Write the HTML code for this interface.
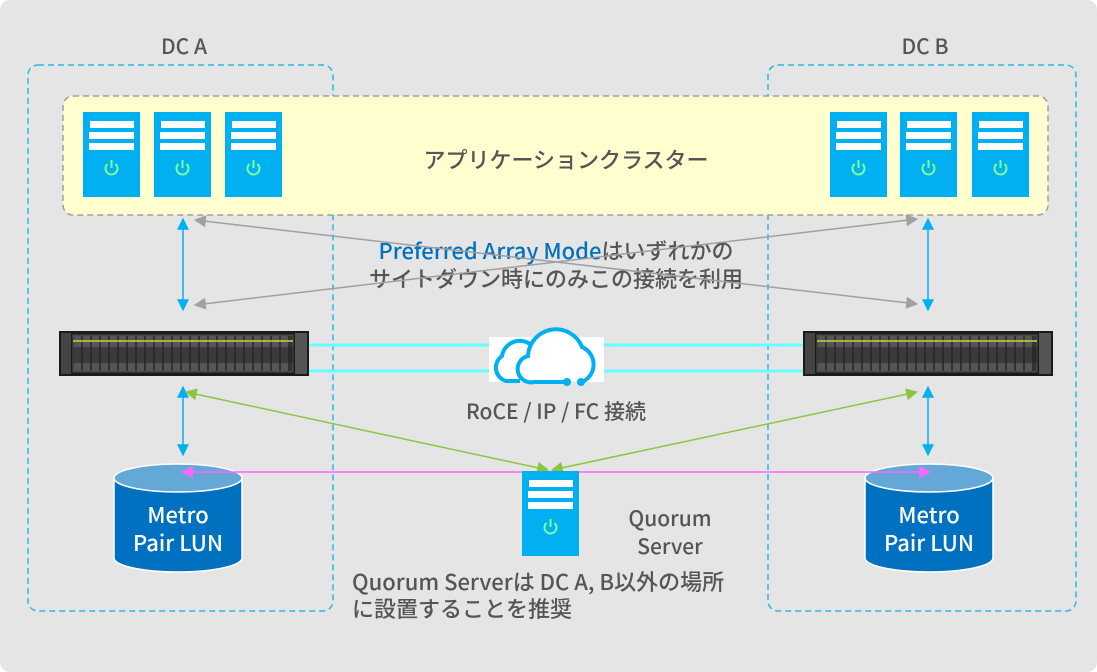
<!DOCTYPE html>
<html><head><meta charset="utf-8"><style>
html,body{margin:0;padding:0;background:#fff}
svg{display:block}
text{font-family:"Noto Sans CJK JP","Liberation Sans",sans-serif;font-weight:500}
</style></head><body>
<svg width="1097" height="672" viewBox="0 0 1097 672" xmlns="http://www.w3.org/2000/svg">
<defs>
<g id="srv">
<rect x="0" y="0" width="57" height="85" fill="#00b0f0"/>
<rect x="7" y="9" width="44" height="7" fill="#fff"/>
<rect x="6" y="20" width="45" height="7" fill="#fff"/>
<rect x="6" y="31" width="45" height="7" fill="#fff"/>
<path d="M24.5 52 A6 6 0 1 0 32.5 52" fill="none" stroke="#7cfc9a" stroke-width="2"/>
<line x1="28.5" y1="48" x2="28.5" y2="56" stroke="#7cfc9a" stroke-width="2"/>
</g>
<g id="arr">
<rect x="0" y="0" width="250" height="45" fill="#1a1a1a"/>
<rect x="2" y="2" width="10" height="41" fill="#444"/>
<rect x="236" y="2" width="12" height="41" fill="#555"/>
<rect x="14" y="4" width="220" height="37" fill="#333" stroke="#777" stroke-width="0.6"/>
<g id="bays">
<rect x="15" y="5" width="7" height="35" fill="#555"/>
<rect x="24" y="5" width="7" height="35" fill="#555"/>
<rect x="33" y="5" width="7" height="35" fill="#555"/>
<rect x="42" y="5" width="7" height="35" fill="#555"/>
<rect x="51" y="5" width="7" height="35" fill="#555"/>
<rect x="60" y="5" width="7" height="35" fill="#555"/>
<rect x="69" y="5" width="7" height="35" fill="#555"/>
<rect x="78" y="5" width="7" height="35" fill="#555"/>
</g>
<use href="#bays" x="72"/>
<use href="#bays" x="144"/>
<rect x="14" y="9" width="220" height="2" fill="#c8c83a" opacity="0.8"/>
<rect x="14" y="16" width="220" height="16" fill="#222" opacity="0.5"/>
</g>
<marker id="mb" viewBox="0 0 10 10" refX="9" refY="5" markerWidth="9" markerHeight="8" orient="auto-start-reverse"><path d="M0 0L10 5L0 10z" fill="#00b0f0"/></marker>
<marker id="mg" viewBox="0 0 10 10" refX="9" refY="5" markerWidth="10" markerHeight="8" orient="auto-start-reverse"><path d="M0 0L10 5L0 10z" fill="#a0a0a0"/></marker>
<marker id="mgr" viewBox="0 0 10 10" refX="9" refY="5" markerWidth="10" markerHeight="8" orient="auto-start-reverse"><path d="M0 0L10 5L0 10z" fill="#8cc63f"/></marker>
<marker id="mm" viewBox="0 0 10 10" refX="9" refY="5" markerWidth="10" markerHeight="8" orient="auto-start-reverse"><path d="M0 0L10 5L0 10z" fill="#ff66ff"/></marker>
</defs>
<rect x="0" y="0" width="1097" height="672" rx="10" fill="#e5e5e5"/>
<rect x="28" y="65" width="305" height="546" rx="10" fill="none" stroke="#29b6ea" stroke-width="1.5" stroke-dasharray="6,4"/>
<rect x="768" y="65" width="308" height="546" rx="10" fill="none" stroke="#29b6ea" stroke-width="1.5" stroke-dasharray="6,4"/>
<text x="184" y="54" font-size="21" fill="#555" text-anchor="middle">DC A</text>
<text x="925" y="54" font-size="21" fill="#555" text-anchor="middle">DC B</text>
<rect x="63" y="96" width="985" height="119" rx="10" fill="#ffffd0" stroke="#a0a0a0" stroke-width="1.5" stroke-dasharray="6,4"/>
<use href="#srv" x="83" y="112"/><use href="#srv" x="154" y="112"/><use href="#srv" x="225" y="112"/>
<use href="#srv" x="830" y="112"/><use href="#srv" x="900" y="112"/><use href="#srv" x="972" y="112"/>
<text x="566" y="168" font-size="22" fill="#555" text-anchor="middle">アプリケーションクラスター</text>
<text x="556" y="259" font-size="22" text-anchor="middle" fill="#555"><tspan fill="#0070c0">Preferred Array Mode</tspan>はいずれかの</text>
<text x="556" y="287" font-size="22" text-anchor="middle" fill="#555">サイトダウン時にのみこの接続を利用</text>
<line x1="195" y1="220" x2="917" y2="304" stroke="#a0a0a0" stroke-width="1.5" marker-start="url(#mg)" marker-end="url(#mg)"/>
<line x1="195" y1="305" x2="917" y2="219" stroke="#a0a0a0" stroke-width="1.5" marker-start="url(#mg)" marker-end="url(#mg)"/>
<line x1="183" y1="219" x2="183" y2="310" stroke="#00b0f0" stroke-width="1.5" marker-start="url(#mb)" marker-end="url(#mb)"/>
<line x1="928" y1="219" x2="928" y2="310" stroke="#00b0f0" stroke-width="1.5" marker-start="url(#mb)" marker-end="url(#mb)"/>
<line x1="183" y1="387" x2="183" y2="455" stroke="#00b0f0" stroke-width="1.5" marker-start="url(#mb)" marker-end="url(#mb)"/>
<line x1="928" y1="387" x2="928" y2="455" stroke="#00b0f0" stroke-width="1.5" marker-start="url(#mb)" marker-end="url(#mb)"/>
<line x1="309" y1="345" x2="803" y2="345" stroke="#66ffff" stroke-width="3"/>
<line x1="309" y1="371" x2="803" y2="371" stroke="#66ffff" stroke-width="3"/>
<use href="#arr" x="59" y="331"/>
<use href="#arr" x="803" y="331"/>
<rect x="489" y="337" width="115" height="45" fill="#fff"/>
<path d="M520 381 H506 A14 14 0 0 1 502 356 A18 18 0 0 1 530 344" fill="#fff" stroke="#00b0f0" stroke-width="4"/>
<path d="M567 382 H534 A12 12 0 0 1 528 356 A28 28 0 0 1 582 347 A19 19 0 0 1 582 382 H582" fill="#fff" stroke="#00b0f0" stroke-width="4"/>
<circle cx="567" cy="382" r="4" fill="#00b0f0"/><circle cx="581" cy="382" r="4" fill="#00b0f0"/>
<text x="556" y="419" font-size="21" fill="#555" text-anchor="middle">RoCE / IP / FC 接続</text>
<line x1="186" y1="392" x2="548" y2="470" stroke="#8cc63f" stroke-width="1.5" marker-start="url(#mgr)" marker-end="url(#mgr)"/>
<line x1="917" y1="392" x2="552" y2="470" stroke="#8cc63f" stroke-width="1.5" marker-start="url(#mgr)" marker-end="url(#mgr)"/>
<g>
<path d="M114 478 V558 A64 14 0 0 0 242 558 V478" fill="#0070c0" stroke="#fff" stroke-width="1.5"/>
<ellipse cx="178" cy="478" rx="64" ry="14" fill="#64a8d8" stroke="#fff" stroke-width="1.5"/>
<text x="178" y="523" font-size="22" fill="#fff" text-anchor="middle">Metro</text>
<text x="178" y="551" font-size="22" fill="#fff" text-anchor="middle">Pair LUN</text>
</g>
<g>
<path d="M865 478 V558 A64 14 0 0 0 993 558 V478" fill="#0070c0" stroke="#fff" stroke-width="1.5"/>
<ellipse cx="929" cy="478" rx="64" ry="14" fill="#64a8d8" stroke="#fff" stroke-width="1.5"/>
<text x="929" y="523" font-size="22" fill="#fff" text-anchor="middle">Metro</text>
<text x="929" y="551" font-size="22" fill="#fff" text-anchor="middle">Pair LUN</text>
</g>
<line x1="182" y1="472" x2="930" y2="472" stroke="#ff66ff" stroke-width="1.5" marker-start="url(#mm)" marker-end="url(#mm)"/>
<use href="#srv" x="522" y="471"/>
<text x="670" y="526" font-size="21" fill="#555" text-anchor="middle">Quorum</text>
<text x="670" y="554" font-size="21" fill="#555" text-anchor="middle">Server</text>
<text x="352" y="590" font-size="22" fill="#555">Quorum Serverは DC A, B以外の場所</text>
<text x="352" y="617" font-size="22" fill="#555">に設置することを推奨</text>
</svg>
</body></html>
